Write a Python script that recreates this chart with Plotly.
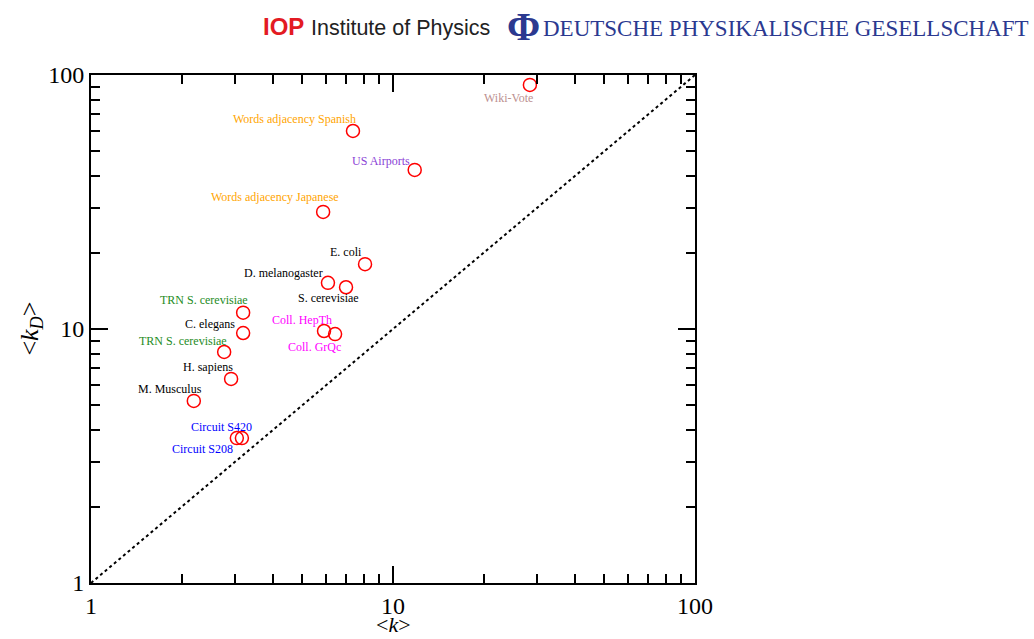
import math
import plotly.graph_objects as go

# Network datasets: mean degree <k> vs mean degree of the driver-node network <k_D>
names = [
    "Wiki-Vote", "Words adjacency Spanish", "US Airports", "Words adjacency Japanese",
    "E. coli", "D. melanogaster", "S. cerevisiae", "TRN S. cerevisiae", "C. elegans",
    "Coll. HepTh", "Coll. GrQc", "TRN S. cerevisiae", "H. sapiens", "M. Musculus",
    "Circuit S420", "Circuit S208",
]
k_mean = [28.4, 7.37, 11.8, 5.87, 8.08, 6.09, 6.99, 3.19, 3.19, 5.91, 6.43, 2.76, 2.91, 2.19, 3.16, 3.04]
kd_mean = [91.4, 60.2, 42.3, 28.9, 18.0, 15.2, 14.6, 11.6, 9.64, 9.82, 9.55, 8.12, 6.36, 5.21, 3.72, 3.72]
label_colors = [
    "#BC8F8F", "#FFA500", "#8A3FD6", "#FFA500", "#000000", "#000000", "#000000",
    "#1E8C1E", "#000000", "#FF00FF", "#FF00FF", "#1E8C1E", "#000000", "#000000",
    "#0000FF", "#0000FF",
]
# label offsets from each marker, in pixels (right, down)
label_dx = [-21, -58, -34, -48, -19, -44, -18, -39, -33, -22, -21, -41, -23, -24, -20, -34]
label_dy = [13, -12, -9, -15, -12, -10, 11, -13, -9, -11, 13, -11, -12, -12, -11, 11]

diag = [1, 100]
tick_vals = [1, 10, 100]
tick_text = ["1", "10", "100"]
minor_vals = [2, 3, 4, 5, 6, 7, 8, 9, 20, 30, 40, 50, 60, 70, 80, 90]

serif = "Liberation Serif, Times New Roman, serif"

fig = go.Figure()
fig.add_trace(go.Scatter(
    x=diag, y=diag, mode="lines",
    line=dict(color="black", width=2, dash="dot"),
    hoverinfo="skip", showlegend=False,
))
fig.add_trace(go.Scatter(
    x=k_mean, y=kd_mean, mode="markers", text=names,
    marker=dict(symbol="circle-open", size=13, color="red", line=dict(width=1.5, color="red")),
    showlegend=False,
))

# annotations on log axes take log10 positions
for n, x, y, c, dx, dy in zip(names, k_mean, kd_mean, label_colors, label_dx, label_dy):
    fig.add_annotation(
        x=math.log10(x), y=math.log10(y), xref="x", yref="y", text=n, showarrow=False,
        xanchor="center", yanchor="middle", xshift=dx, yshift=-dy,
        font=dict(family=serif, size=12, color=c),
    )

axis_common = dict(
    type="log", showgrid=False, zeroline=False,
    showline=True, linecolor="black", linewidth=2, mirror="ticks",
    ticks="inside", ticklen=17, tickwidth=1.5, tickcolor="black",
    tickvals=tick_vals, ticktext=tick_text,
    tickfont=dict(family=serif, size=24, color="black"),
    minor=dict(tickvals=minor_vals, ticks="inside", ticklen=9, tickwidth=1.5, tickcolor="black"),
)
fig.update_xaxes(range=[0, 2], ticklabelstandoff=0, **axis_common)
fig.update_yaxes(range=[0, 2], **axis_common)

# axis titles
fig.add_annotation(
    x=0.5, y=-(638 - 583) / 508, xref="paper", yref="paper", showarrow=False,
    text="&lt;<i>k</i>&gt;", font=dict(family=serif, size=22, color="black"),
    xanchor="center", yanchor="bottom", borderpad=0,
)
fig.add_annotation(
    x=-0.10, y=0.5, xref="paper", yref="paper", showarrow=False, textangle=-90,
    text="&lt;<i>k</i><sub><i>D</i></sub>&gt;", font=dict(family=serif, size=26, color="black"),
    xanchor="center", yanchor="middle",
)

# publisher header
def px_x(p):
    return (p - 91) / 604


def px_y(p):
    return (583 - p) / 508


fig.add_annotation(
    x=px_x(261), y=px_y(27), xref="paper", yref="paper", showarrow=False, text="<b>IOP</b>",
    font=dict(family="Liberation Sans, Arial, sans-serif", size=24, color="#E31B23"),
    xanchor="left", yanchor="middle",
)
fig.add_annotation(
    x=px_x(309), y=px_y(28), xref="paper", yref="paper", showarrow=False,
    text="Institute of Physics",
    font=dict(family="Liberation Sans Narrow, Arial Narrow, sans-serif", size=21.5, color="#222222"),
    xanchor="left", yanchor="middle",
)
fig.add_annotation(
    x=px_x(505), y=px_y(27), xref="paper", yref="paper", showarrow=False,
    text="<b>Φ</b>",
    font=dict(family=serif, size=40, color="#2B3990"),
    xanchor="left", yanchor="middle",
)
fig.add_annotation(
    x=px_x(541), y=px_y(29), xref="paper", yref="paper", showarrow=False,
    text="DEUTSCHE PHYSIKALISCHE GESELLSCHAFT",
    font=dict(family=serif, size=23, color="#2B3990"),
    xanchor="left", yanchor="middle",
)

fig.update_layout(
    width=1034, height=639,
    margin=dict(l=91, r=339, t=75, b=56),
    paper_bgcolor="white", plot_bgcolor="white",
)

fig.write_html("out.html")
